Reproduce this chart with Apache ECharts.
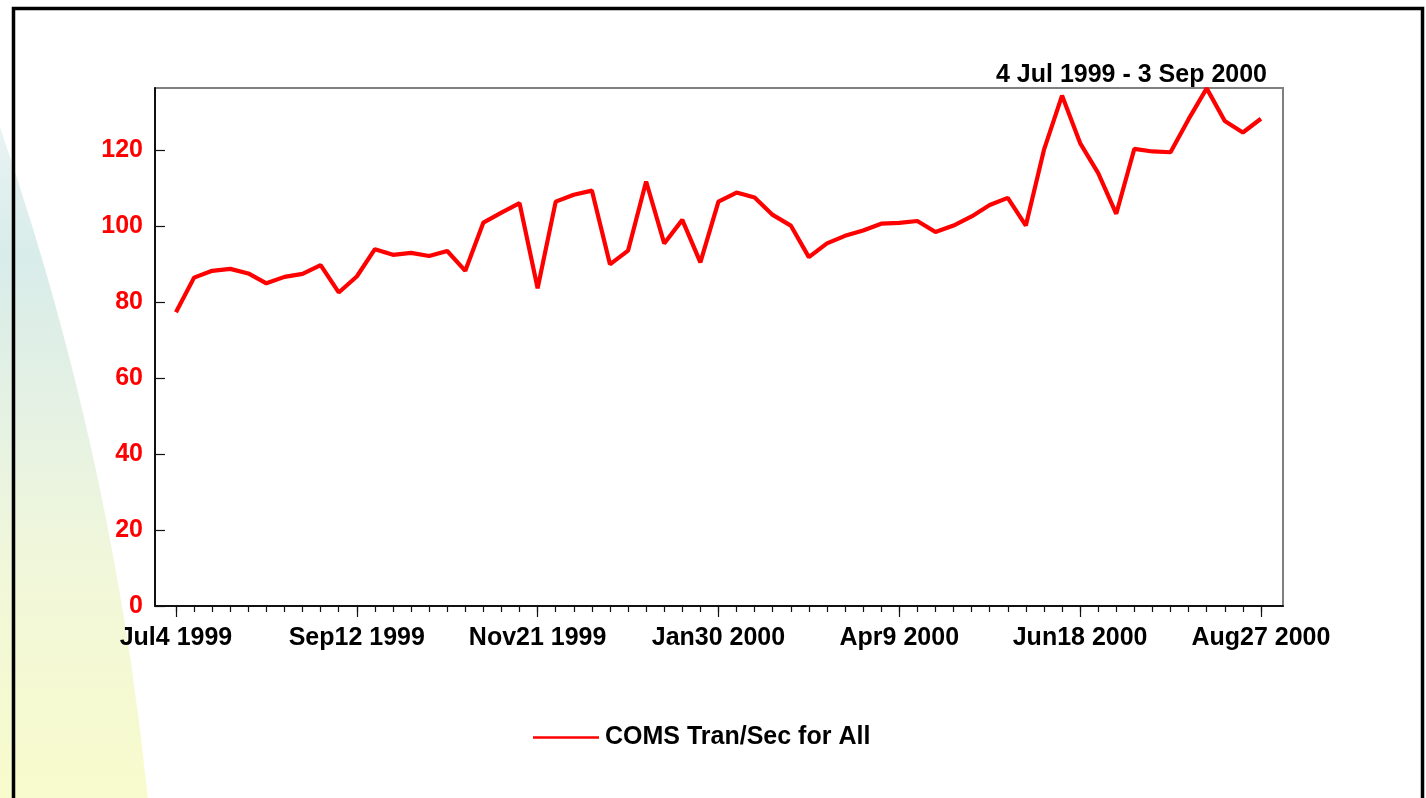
<!DOCTYPE html>
<html>
<head>
<meta charset="utf-8">
<script src="https://cdn.jsdelivr.net/npm/echarts@6/dist/echarts.min.js"></script>
<style>
html,body{margin:0;padding:0;background:#fff;}
#chart{width:1426px;height:798px;}
</style>
</head>
<body>
<div id="chart"></div>
<script>
// Weekly data, 4 Jul 1999 .. 27 Aug 2000 (61 weeks)
const tickLabels = ['Jul4 1999','Sep12 1999','Nov21 1999','Jan30 2000','Apr9 2000','Jun18 2000','Aug27 2000'];
const labelWeeks = [0,10,20,30,40,50,60];
const values = [
  77.3, 86.4, 88.2, 88.7, 87.5, 84.9, 86.6, 87.4, 89.7, 82.5,
  86.7, 93.9, 92.4, 92.9, 92.1, 93.4, 88.2, 100.9, 103.5, 106.0,
  83.6, 106.4, 108.2, 109.3, 89.9, 93.5, 111.7, 95.4, 101.6, 90.4,
  106.4, 108.8, 107.5, 102.9, 100.1, 91.8, 95.4, 97.4, 98.8, 100.6,
  100.8, 101.3, 98.4, 100.1, 102.5, 105.5, 107.4, 100.1, 120.0, 134.3,
  121.8, 113.9, 103.2, 120.3, 119.6, 119.4, 128.1, 136.2, 127.6, 124.6,
  128.2
];
const yTicks = [0,20,40,60,80,100,120];
const seriesName = 'COMS Tran/Sec for All';
const titleText = '4 Jul 1999 - 3 Sep 2000';

const weekIdx = values.map((v,i)=>i);
const FONT = "'Liberation Sans', Arial, Helvetica, sans-serif";

const chart = echarts.init(document.getElementById('chart'), null, {renderer:'canvas'});
chart.setOption({
  backgroundColor: '#ffffff',
  animation: false,
  graphic: [
    {
      type: 'circle', z: -10, silent: true,
      shape: {cx: -2809, cy: 1098, r: 2972},
      style: {
        fill: new echarts.graphic.LinearGradient(0, 0, 0, 798, [
          {offset: 0, color: '#fbf3f3'},
          {offset: 0.18, color: '#e6f2f1'},
          {offset: 0.32, color: '#d8ecea'},
          {offset: 0.5, color: '#e4f1e4'},
          {offset: 0.72, color: '#f1f7d9'},
          {offset: 1, color: '#f8fbcc'}
        ], true)
      }
    },
    {
      type: 'rect', z: 100, silent: true,
      shape: {x: 13.5, y: 8.5, width: 1409, height: 810},
      style: {fill: 'none', stroke: '#000', lineWidth: 3.5}
    }
  ],
  title: {
    text: titleText,
    right: 154, top: 58,
    textStyle: {fontFamily: FONT, fontWeight: 'bold', fontSize: 25, color: '#000'}
  },
  legend: {
    data: [{name: seriesName, icon: 'rect'}],
    left: 528, top: 720,
    itemWidth: 66, itemHeight: 2.5, itemGap: 8,
    textStyle: {fontFamily: FONT, fontWeight: 'bold', fontSize: 25, color: '#000', padding: [0,0,0,1]}
  },
  grid: {
    left: 155, right: 143, top: 88, bottom: 192,
    show: true, backgroundColor: '#fff', borderColor: '#808080', borderWidth: 2
  },
  xAxis: [
    {
      type: 'value', min: -1.16, max: 61.22, position: 'bottom',
      axisLine: {show: true, onZero: false, lineStyle: {color: '#111', width: 2}},
      axisTick: {show: true, inside: false, length: 6, lineStyle: {color: '#111', width: 1.2}, customValues: weekIdx},
      axisLabel: {
        show: true, margin: 20, customValues: labelWeeks,
        formatter: function (v) { const k = labelWeeks.indexOf(Math.round(v)); return k >= 0 ? tickLabels[k] : ''; },
        fontFamily: FONT, fontWeight: 'bold', fontSize: 25, color: '#000'
      },
      splitLine: {show: false}
    },
    {
      type: 'value', min: -1.16, max: 61.22, position: 'bottom', offset: 0,
      axisLine: {show: false},
      axisTick: {show: true, length: 11, lineStyle: {color: '#111', width: 1.2}, customValues: labelWeeks},
      axisLabel: {show: false},
      splitLine: {show: false}
    }
  ],
  yAxis: {
    type: 'value', min: 0, max: 136.3,
    axisLine: {show: true, onZero: false, lineStyle: {color: '#111', width: 2}},
    axisTick: {show: true, inside: true, length: 10, lineStyle: {color: '#111', width: 1.2}, customValues: yTicks},
    axisLabel: {
      customValues: yTicks, margin: 12,
      fontFamily: FONT, fontWeight: 'bold', fontSize: 25, color: '#ff0000'
    },
    splitLine: {show: false}
  },
  series: [{
    name: seriesName,
    type: 'line',
    xAxisIndex: 0,
    data: values.map((v,i)=>[i, v]),
    symbol: 'none',
    clip: false,
    lineStyle: {color: '#ff0000', width: 4.2},
    itemStyle: {color: '#ff0000'}
  }]
});
</script>
</body>
</html>
